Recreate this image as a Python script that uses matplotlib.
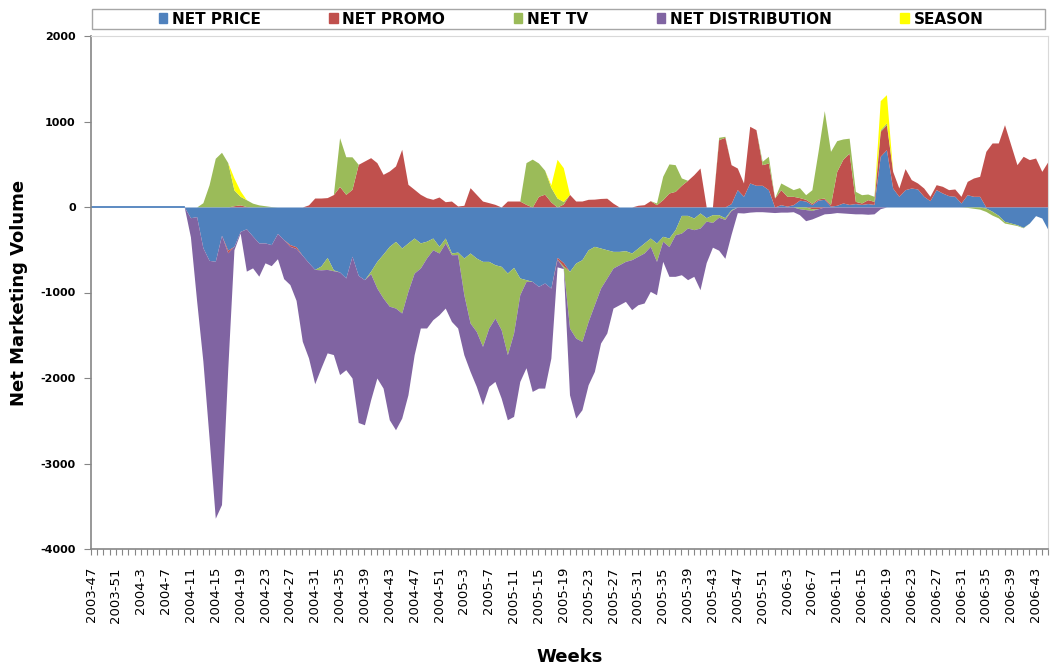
import numpy as np
import matplotlib
matplotlib.use("Agg")
from matplotlib import pyplot as plt
from matplotlib.patches import Patch, Rectangle

# week labels 2003-47 ... (52 weeks a year)
n_weeks = 155
weeks = []
yr, wk = 2003, 47
for k in range(n_weeks):
    weeks.append(f"{yr}-{wk}")
    wk += 1
    if wk > 52:
        yr, wk = yr + 1, 1

series_names = ["NET PRICE", "NET PROMO", "NET TV", "NET DISTRIBUTION", "SEASON"]

price_neg = [0] * 16 + [
    -125, -113, -476, -624, -635, -330, -505, -460, -285, -255,
    -340, -420, -420, -440, -310, -380, -440, -465, -565, -650,
    -730, -690, -590, -735, -760, -830, -575, -800, -850, -750,
    -636, -550, -460, -402, -480, -420, -363, -420, -400, -363,
    -460, -363, -538, -527, -597, -538, -597, -636, -636, -675,
    -694, -772, -706, -830, -850, -870, -928, -889, -948, -590,
    -650, -753, -655, -616, -500, -460, -480, -500, -519, -519,
    -511, -538, -480, -421, -363, -421, -343, -363, -265, -98,
    -98, -129, -70, -125, -90, -90, -125, -31] + [0] * 40 + [
    -12, -50, -97, -168, -187, -207, -238, -187, -101, -129, -265]

price_pos = [0] * 103 + [
    40, 203, 125, 281, 254, 254, 203, 0, 27, 10,
    27, 80, 70, 27, 80, 90, 10, 20, 47, 30,
    40, 30, 40, 30, 593, 671, 222, 125, 203, 222,
    211, 125, 74, 203, 164, 133, 125, 47, 144, 125,
    125] + [0] * 11

promo_pos = [0] * 23 + [15, 25, 5] + [0] * 9 + [
    25, 105, 105, 110, 145, 240, 148, 207, 499, 538,
    577, 519, 382, 421, 480, 675, 265, 207, 148, 109,
    90, 117, 62, 70, 12, 20, 226, 148, 70, 51,
    31, 0, 70, 70, 70, 31, 0, 125, 150, 60,
    0, 35, 148, 70, 70, 90, 92, 100, 103, 45,
    0, 0, 0, 20, 27, 74, 27, 86, 164, 183,
    254, 312, 378, 456, 0, 0, 788, 815, 455, 253,
    156, 663, 651, 241, 312, 105, 176, 115, 98, 30,
    20, 15, 15, 15, 20, 397, 513, 600, 26, 17,
    46, 36, 292, 292, 195, 97, 246, 98, 70, 97,
    51, 58, 78, 70, 86, 78, 156, 214, 234, 651,
    749, 749, 963, 729, 495, 593, 554, 573, 417, 534]

promo_neg = [0] * n_weeks
for i, v in {22: -30, 32: -20, 33: -20, 75: -20, 76: -40, 116: -20, 117: -20}.items():
    promo_neg[i] = v

tv_pos = [0] * 18 + [50, 260, 570, 640, 520, 185, 100, 80, 45, 25, 15, 5] + [0] * 10 + [
    571, 440, 380] + [0] * 27 + [
    488, 560, 390, 280, 170, 105, 30] + [0] * 14 + [
    20, 274, 340, 312, 86] + [0] * 5 + [27, 12] + [0] * 5 + [
    39, 78, 0, 78, 117, 78, 117, 54, 160, 556,
    1022, 621, 359, 236, 175, 117, 97, 66, 59, 20,
    20] + [0] * 26

tv_neg = [0] * 37 + [-45, -140, -10] + [0] * 5 + [
    -30, -312, -515, -700, -780, -760, -565, -410, -293, -195,
    -137, -78, -58, -20, -30, -430, -819, -858, -994, -780,
    -624, -741, -955, -768, -195, -20] + [0] * 5 + [
    -20, -663, -878, -956, -838, -682, -468, -331, -195, -156,
    -125, -78, -97, -117, -97, -215, -58, -100, -60, -207,
    -148, -136, -176, -40, -90, -30, -20, -10] + [0] * 10 + [
    -20, -30, -20] + [0] * 24 + [
    -5, -15, -25, -40, -45, -30, -20, -15, -10, -5] + [0] * 4

dist_neg = [0] * 16 + [
    -225, -987, -1324, -2076, -3005, -3150, -1365, -40, -20, -495,
    -372, -389, -233, -246, -295, -458, -447, -607, -1005, -1115,
    -1337, -1147, -976, -981, -1200, -1073, -1425, -1720, -1697, -1474,
    -1052, -1053, -1328, -1423, -1229, -1211, -955, -702, -820, -818,
    -722, -761, -780, -858, -701, -566, -643, -683, -682, -741,
    -800, -761, -975, -1015, -1010, -1287, -1190, -1229, -819, -90,
    -10, -780, -936, -799, -741, -781, -643, -643, -468, -468,
    -468, -585, -566, -585, -527, -390, -235, -348, -486, -487,
    -604, -546, -721, -485, -290, -385, -455, -279, -66, -70,
    -60, -55, -55, -60, -65, -60, -60, -55, -70, -130,
    -100, -90, -80, -75, -65, -70, -75, -80, -80, -85,
    -80, -20] + [0] * 27

season_pos = [0] * n_weeks
for i, v in {23: 140, 24: 65, 74: 30, 75: 453, 76: 395, 127: 339, 128: 331}.items():
    season_pos[i] = v

c_price, c_promo, c_tv, c_dist, c_season = "#4F81BD", "#C0504D", "#9BBB59", "#8064A2", "#FFFF00"

fig = plt.figure(figsize=(10.51, 6.70), dpi=100)
ax = fig.add_axes([91 / 1051, 121 / 670, 957 / 1051, 513 / 670])

x = np.arange(n_weeks)

# positive parts stack upward, negative parts stack downward
base = np.zeros(n_weeks)
for vals, col in [(price_pos, c_price), (promo_pos, c_promo), (tv_pos, c_tv), (season_pos, c_season)]:
    top = base + np.array(vals, dtype=float)
    ax.fill_between(x, base, top, color=col, lw=0)
    base = top
base = np.zeros(n_weeks)
for vals, col in [(price_neg, c_price), (promo_neg, c_promo), (tv_neg, c_tv), (dist_neg, c_dist)]:
    bot = base + np.array(vals, dtype=float)
    ax.fill_between(x, base, bot, color=col, lw=0)
    base = bot

# flat blue line where everything is still zero
total_abs = np.abs(np.array(price_neg)) + np.abs(np.array(dist_neg))
flat = np.where(total_abs == 0)[0]
flat = flat[flat < 20]
ax.plot(x[:flat[-1] + 1], np.array(price_neg[:flat[-1] + 1]), color=c_price, lw=1.3)

ax.set_xlim(0, n_weeks - 1)
ax.set_ylim(-4000, 2000)
ax.set_yticks(range(-4000, 2001, 1000))
ax.set_yticklabels([str(v) for v in range(-4000, 2001, 1000)], fontsize=8, fontweight="bold")
ax.set_xticks(x)
ax.set_xticklabels([weeks[i] if i % 4 == 0 else "" for i in x], rotation=90, fontsize=9.5)
ax.tick_params(axis="x", length=4, color="#868686", pad=9)
ax.tick_params(axis="y", length=5, color="#868686", pad=6)

for s in ["left", "bottom"]:
    ax.spines[s].set_color("#868686")
    ax.spines[s].set_linewidth(1.2)
for s in ["top", "right"]:
    ax.spines[s].set_color("#d9d9d9")
    ax.spines[s].set_linewidth(0.8)

ax.set_ylabel("Net Marketing Volume", fontsize=13, fontweight="bold", labelpad=9)
ax.set_xlabel("Weeks", fontsize=13, fontweight="bold", labelpad=18)

# legend box across the top
fig.patches.append(Rectangle((92 / 1051, 1 - 29 / 670), 953 / 1051, 20 / 670,
                             transform=fig.transFigure, facecolor="white",
                             edgecolor="#a6a6a6", lw=1.0))
handles = [Patch(color=c) for c in [c_price, c_promo, c_tv, c_dist, c_season]]
leg = fig.legend(handles, series_names, loc="center", ncol=5,
                 bbox_to_anchor=(571 / 1051, 1 - 19 / 670),
                 prop={"weight": "bold", "size": 11}, handlelength=0.55, handleheight=0.55,
                 handletextpad=0.3, columnspacing=4.5, borderpad=0.1, frameon=False)

fig.savefig("out.png", dpi=100)
